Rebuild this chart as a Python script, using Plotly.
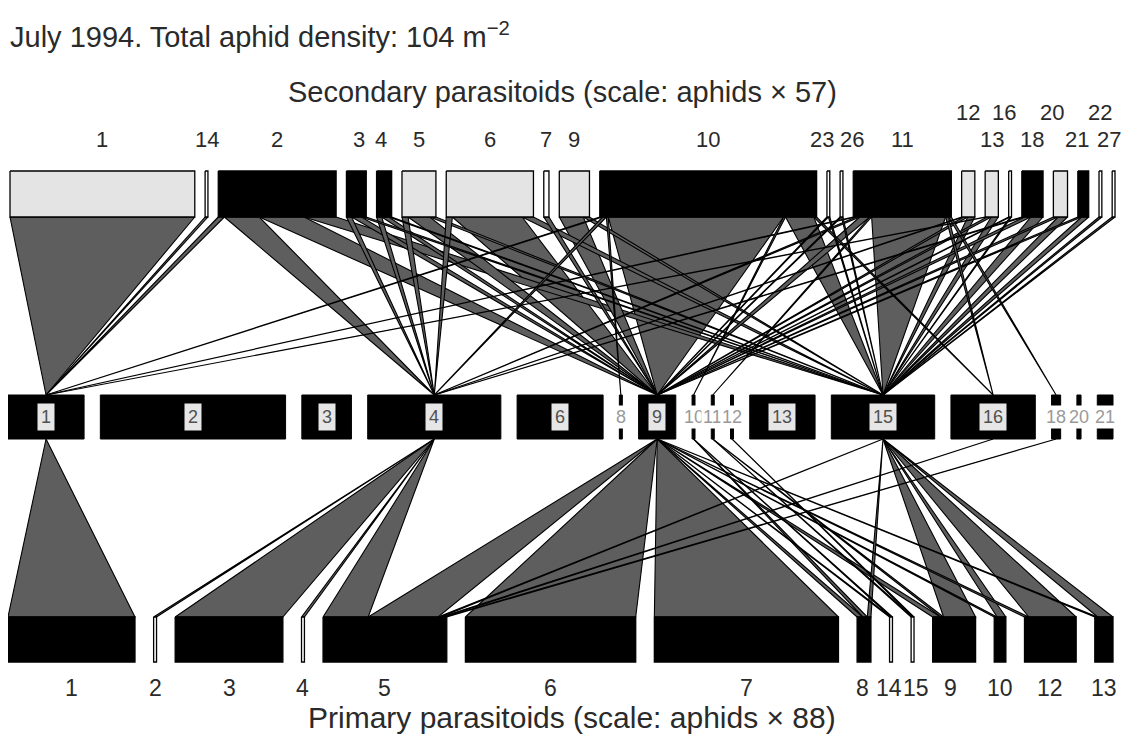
import plotly.graph_objects as go

# ---- data: densities (per m^2) ----
aphid_ids = ['1', '2', '3', '4', '6', '8', '9', '10', '11', '12', '13', '15', '16', '18', '20', '21']
aphid_density = [9.2, 22.4, 6.0, 16.1, 10.4, 0.36, 4.5, 0.36, 0.36, 0.36, 7.9, 12.5, 10.2, 1.1, 0.5, 1.9]

sec_ids = ['1', '14', '2', '3', '4', '5', '6', '7', '9', '10', '23', '26', '11',
           '12', '13', '16', '18', '20', '21', '22', '27']
sec_density = [0.392, 0.006, 0.250, 0.042, 0.032, 0.072, 0.185, 0.011, 0.064, 0.460, 0.006, 0.006, 0.208,
               0.028, 0.028, 0.006, 0.045, 0.030, 0.023, 0.006, 0.006]
sec_pale = ['1', '5', '6', '9', '12', '13', '20']

prim_ids = ['1', '2', '3', '4', '5', '6', '7', '8', '14', '15', '9', '10', '12', '13']
prim_density = [0.1745, 0.004, 0.148, 0.004, 0.170, 0.234, 0.253, 0.019, 0.004, 0.004, 0.059, 0.016, 0.071, 0.025]

# secondary parasitoid -> aphid links (secondary density)
up_from = ['1', '14',
           '2', '2', '2', '2',
           '3', '3', '3', '4', '4', '4',
           '5', '5', '5', '6', '6', '6', '7', '9', '9',
           '10', '10', '10', '10', '10', '10', '10',
           '23', '23', '26', '26',
           '11', '11', '11', '11', '11', '11', '11',
           '12', '12', '12', '13', '13', '13', '16', '16',
           '18', '18', '18', '20', '20', '21', '21', '22', '27']
up_to = ['1', '1',
         '1', '4', '9', '15',
         '4', '9', '15', '4', '9', '15',
         '4', '9', '15', '4', '9', '15', '9', '9', '15',
         '1', '4', '8', '9', '10', '15', '16',
         '9', '15', '9', '15',
         '1', '4', '9', '11', '15', '16', '18',
         '4', '9', '15', '1', '9', '15', '9', '15',
         '4', '9', '15', '9', '15', '9', '15', '15', '15']
up_value = [0.392, 0.006,
            0.013, 0.074, 0.095, 0.068,
            0.011, 0.021, 0.010, 0.011, 0.015, 0.006,
            0.013, 0.046, 0.013, 0.013, 0.148, 0.024, 0.011, 0.051, 0.013,
            0.006, 0.008, 0.004, 0.372, 0.004, 0.060, 0.006,
            0.003, 0.003, 0.003, 0.003,
            0.006, 0.008, 0.021, 0.004, 0.157, 0.006, 0.006,
            0.004, 0.009, 0.015, 0.004, 0.009, 0.015, 0.003, 0.003,
            0.006, 0.013, 0.026, 0.010, 0.020, 0.008, 0.015, 0.006, 0.006]

# aphid -> primary parasitoid links (primary density)
low_from = ['1', '4', '4', '4', '4', '9', '15', '16', '18', '9', '9',
            '9', '10', '15', '9', '10', '11', '12',
            '9', '11', '15', '9', '15', '9', '15', '9', '15']
low_to = ['1', '2', '3', '4', '5', '5', '5', '5', '5', '6', '7',
          '8', '8', '8', '14', '14', '15', '15',
          '9', '9', '9', '10', '10', '12', '12', '13', '13']
low_value = [0.1745, 0.004, 0.148, 0.004, 0.062, 0.096, 0.004, 0.004, 0.004, 0.234, 0.253,
             0.008, 0.006, 0.005, 0.002, 0.002, 0.002, 0.002,
             0.011, 0.004, 0.044, 0.004, 0.012, 0.006, 0.065, 0.004, 0.021]

total_aphids = 104
sec_scale = 57
prim_scale = 88

# ---- layout ----
W, H = 1133, 736
OFF = 8  # page body margin
PX = 8.27  # pixels per aphid m^-2
TOP = (171, 217)
MID = (395, 439)
BOT = (617, 662)
FONT = 'Liberation Sans, Arial, sans-serif'
NARROW = 'Liberation Sans Narrow, Liberation Sans, Arial, sans-serif'
WEDGE = '#5e5e5e'
TXT = '#2a2a2a'


def place(ids, dens, scale, x0, x1):
    widths = [d * scale * PX for d in dens]
    gap = (x1 - x0 - sum(widths)) / (len(ids) - 1)
    pos, x = {}, x0
    for i, w in zip(ids, widths):
        pos[i] = (x, x + w)
        x += w + gap
    return pos


sec_pos = place(sec_ids, sec_density, sec_scale, 10, 1115)
aph_pos = place(aphid_ids, aphid_density, 1, 8, 1113)
prim_pos = place(prim_ids, prim_density, prim_scale, 8, 1113)
aph_mid = {k: (a + b) / 2 for k, (a, b) in aph_pos.items()}

fig = go.Figure()


def poly(xs, ys, fill, line='black', lw=1.0):
    fig.add_trace(go.Scatter(x=xs + [xs[0]], y=ys + [ys[0]], mode='lines', fill='toself',
                             fillcolor=fill, line=dict(color=line, width=lw),
                             hoverinfo='skip', showlegend=False))


def links(src, dst, val, bar_pos, scale, bar_y, apex_y, bar_is_src):
    polys = []
    for node in bar_pos:
        idx = [i for i in range(len(val)) if (src[i] if bar_is_src else dst[i]) == node]
        other = [dst[i] if bar_is_src else src[i] for i in idx]
        order = sorted(range(len(idx)), key=lambda j: aph_mid[other[j]])
        x = bar_pos[node][0]
        for j in order:
            w = val[idx[j]] * scale * PX
            polys.append((val[idx[j]], [x, x + w, aph_mid[other[j]]], [bar_y, bar_y, apex_y]))
            x += w
    for _, xs, ys in sorted(polys, key=lambda p: -p[0]):
        poly(xs, ys, WEDGE, lw=1.1)


links(up_from, up_to, up_value, sec_pos, sec_scale, TOP[1], MID[0], True)
links(low_from, low_to, low_value, prim_pos, prim_scale, BOT[0], MID[1], False)

# bars
for k, (a, b) in sec_pos.items():
    thin = b - a < 6
    fill = 'white' if thin else ('#e4e4e4' if k in sec_pale else 'black')
    poly([a, b, b, a], [TOP[0], TOP[0], TOP[1], TOP[1]], fill, lw=1.3)
for k, (a, b) in aph_pos.items():
    poly([a, b, b, a], [MID[0], MID[0], MID[1], MID[1]], 'black', lw=1)
for k, (a, b) in prim_pos.items():
    thin = b - a < 6
    poly([a, b, b, a], [BOT[0], BOT[0], BOT[1], BOT[1]], 'white' if thin else 'black', lw=1.3)

# text
ann = []
ann.append(dict(x=8, y=35, xanchor='left', text='July 1994. Total aphid density: %d m<sup>\u22122</sup>' % total_aphids,
                font=dict(size=29, color=TXT, family=FONT)))
ann.append(dict(x=562, y=92, text='Secondary parasitoids (scale: aphids \u00d7 %d)' % sec_scale,
                font=dict(size=29, color=TXT, family=FONT)))
ann.append(dict(x=572, y=717, text='Primary parasitoids (scale: aphids \u00d7 %d)' % prim_scale,
                font=dict(size=30, color=TXT, family=NARROW)))

upper_row = ['12', '16', '20', '22']
nudge = {'23': -6, '26': 10, '16': -6, '20': -8, '21': -6, '27': -5, '3': 3, '4': -3}
for k, (a, b) in sec_pos.items():
    ann.append(dict(x=(a + b) / 2 + nudge.get(k, 0), y=112 if k in upper_row else 139, text=k,
                    font=dict(size=22, color=TXT, family=FONT)))
for k, (a, b) in aph_pos.items():
    thin = b - a < 20
    ann.append(dict(x=(a + b) / 2, y=(MID[0] + MID[1]) / 2, text=k,
                    font=dict(size=18, color='#9a9a9a' if thin else '#505050', family=FONT),
                    bgcolor='white' if thin else '#e6e6e6', borderpad=1 if thin else 3))
bnudge = {'8': -2, '14': -2, '15': 3, '9': -4}
for k, (a, b) in prim_pos.items():
    ann.append(dict(x=(a + b) / 2 + bnudge.get(k, 0), y=688, text=k,
                    font=dict(size=23, color=TXT, family=NARROW)))

for a in ann:
    a.update(xref='x', yref='y', showarrow=False)
fig.update_layout(annotations=ann)

fig.update_layout(width=W - OFF, height=H - OFF, margin=dict(l=0, r=0, t=0, b=0),
                  paper_bgcolor='white', plot_bgcolor='white',
                  xaxis=dict(range=[OFF, W], visible=False, fixedrange=True),
                  yaxis=dict(range=[H, OFF], visible=False, fixedrange=True))
fig.write_html("out.html")
